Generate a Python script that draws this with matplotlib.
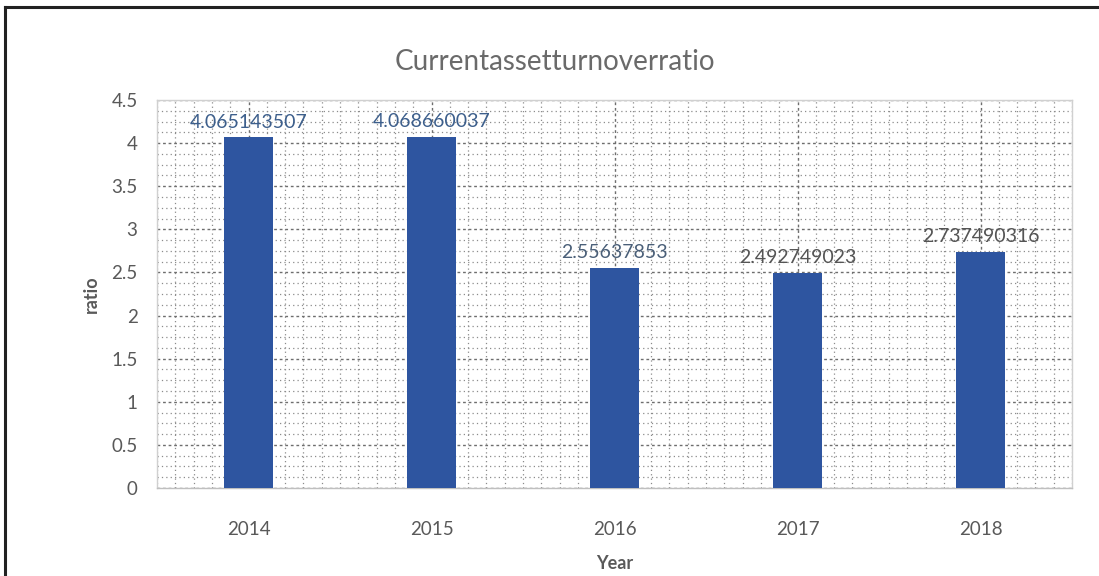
import matplotlib.pyplot as plt
from matplotlib.lines import Line2D
from matplotlib.ticker import MultipleLocator

years = ['2014', '2015', '2016', '2017', '2018']
ratios = [4.065143507, 4.068660037, 2.55637853, 2.492749023, 2.737490316]
labels = ['4.065143507', '4.068660037', '2.55637853', '2.492749023', '2.737490316']
label_colors = ['#3d5f8c', '#3d5f8c', '#4a5f78', '#555555', '#555555']

plt.rcParams['font.family'] = ['Lato', 'DejaVu Sans']

fig = plt.figure(figsize=(10.99, 5.76), dpi=100)
ax = fig.add_axes([157/1099, 1 - 488/576, (1072-157)/1099, (488-100)/576])

x = range(len(years))
ax.bar(x, ratios, width=0.27, color='#2e55a0', zorder=3)

for i, (v, t) in enumerate(zip(ratios, labels)):
    ax.text(i, v + 0.08, t, ha='center', va='bottom', fontsize=14,
            color=label_colors[i], zorder=4)

ax.set_xlim(-0.5, 4.5)
ax.set_ylim(0, 4.5)
ax.set_xticks(list(x))
ax.set_xticklabels(years)
ax.yaxis.set_major_locator(MultipleLocator(0.5))
ax.yaxis.set_major_formatter(plt.FuncFormatter(lambda v, p: f'{v:g}'))
ax.yaxis.set_minor_locator(MultipleLocator(0.125))
ax.xaxis.set_minor_locator(MultipleLocator(0.1))

# dichtes gepunktetes Gitter wie im Excel-Original
ax.grid(which='major', axis='both', color='#6e6e6e', linestyle=(0, (2, 2)), linewidth=1.0, zorder=0)
ax.grid(which='minor', axis='both', color='#8c8c8c', linestyle=(0, (1, 2.5)), linewidth=0.9, zorder=0)
ax.set_axisbelow(True)

ax.tick_params(which='both', length=0)
ax.tick_params(axis='y', labelsize=13.5, colors='#595959', pad=14)
ax.tick_params(axis='x', labelsize=13.5, colors='#595959', pad=24)

for s in ax.spines.values():
    s.set_color('#d0d0d0')
    s.set_linewidth(1)
ax.spines['bottom'].set_color('#bfbfbf')

ax.set_ylabel('ratio', fontsize=13, fontweight='bold', color='#595959', labelpad=8)
ax.set_xlabel('Year', fontsize=13, fontweight='bold', color='#595959', labelpad=12)

fig.text(555/1099, 1 - 62/576, 'Currentassetturnoverratio', ha='center', va='center',
         fontsize=20, color='#6a6a6a', fontweight='normal')

# Rahmen oben und links
fig.add_artist(Line2D([5/1099, 1], [1 - 7/576, 1 - 7/576], color='#222222', linewidth=2.2))
fig.add_artist(Line2D([5/1099, 5/1099], [0, 1 - 7/576], color='#222222', linewidth=2.2))

fig.savefig('out.png', dpi=100)
